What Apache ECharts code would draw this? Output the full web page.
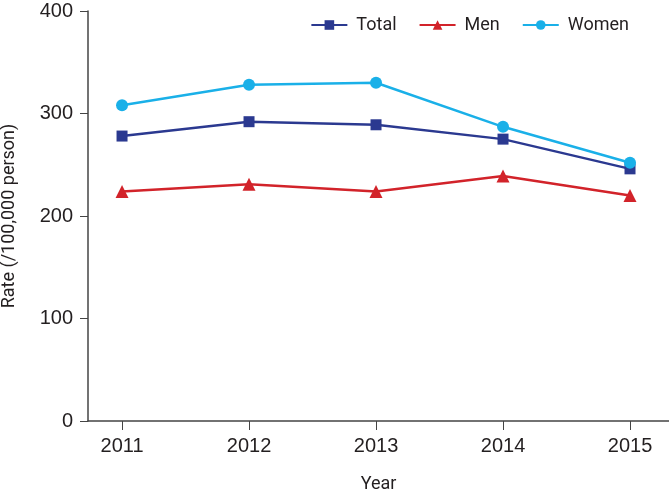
<!DOCTYPE html>
<html><head><meta charset="utf-8">
<script src="https://cdn.jsdelivr.net/npm/echarts@6/dist/echarts.min.js"></script>
<style>html,body{margin:0;padding:0;background:#fff}#c{width:669px;height:493px}</style>
</head><body><div id="c"></div>
<script>
var years = [2011, 2012, 2013, 2014, 2015];
var total = [278, 292, 289, 275, 246];
var men = [224, 231, 224, 239, 220];
var women = [308, 328, 330, 287, 252];
var yTicks = [0, 100, 200, 300, 400];

function pairs(v){ return years.map(function(y,i){ return [y, v[i]]; }); }
var F = 'Roboto, "Liberation Sans", sans-serif';
var A = '"Liberation Sans", Arial, sans-serif';
var chart = echarts.init(document.getElementById('c'));
chart.setOption({
  animation: false,
  textStyle: {fontFamily: F},
  grid: {left: 88, right: 0, top: 11, bottom: 72, outerBoundsMode: 'none', containLabel: false},
  legend: {
    top: 11, right: 35, itemWidth: 36, itemHeight: 12, itemGap: 22,
    textStyle: {fontSize: 18, color: '#231f20', fontFamily: F, padding: [0, 0, 0, 4]},
    data: ['Total', 'Men', 'Women']
  },
  xAxis: {
    type: 'value', min: 2010.732, max: 2015.307,
    name: 'Year', nameLocation: 'middle', nameGap: 54,
    nameTextStyle: {fontSize: 18, color: '#231f20'},
    axisLine: {show: true, lineStyle: {color: '#444', width: 1.5}},
    axisTick: {show: true, length: 9, lineStyle: {color: '#444'}, customValues: years},
    axisLabel: {fontSize: 20, fontFamily: A, color: '#231f20', margin: 15, customValues: years, formatter: function(v){return String(v);}},
    splitLine: {show: false}
  },
  yAxis: {
    type: 'value', min: 0, max: 400, interval: 100,
    name: 'Rate (/100,000 person)', nameLocation: 'middle', nameGap: 70,
    nameTextStyle: {fontSize: 18, color: '#231f20'},
    axisLine: {show: true, lineStyle: {color: '#444', width: 1.5}},
    axisTick: {show: true, length: 8, lineStyle: {color: '#444'}, customValues: yTicks},
    axisLabel: {fontSize: 20, fontFamily: A, color: '#231f20', margin: 15, customValues: yTicks},
    splitLine: {show: false}
  },
  series: [
    {name: 'Total', type: 'line', data: pairs(total), symbol: 'rect', symbolSize: 11,
     itemStyle: {color: '#2b3990'}, lineStyle: {width: 2.5, color: '#2b3990'}},
    {name: 'Men', type: 'line', data: pairs(men), symbol: 'triangle', symbolSize: 13,
     itemStyle: {color: '#d2232a'}, lineStyle: {width: 2.5, color: '#d2232a'}},
    {name: 'Women', type: 'line', data: pairs(women), symbol: 'circle', symbolSize: 12,
     itemStyle: {color: '#1ab0e8'}, lineStyle: {width: 2.5, color: '#1ab0e8'}}
  ]
});
</script></body></html>
